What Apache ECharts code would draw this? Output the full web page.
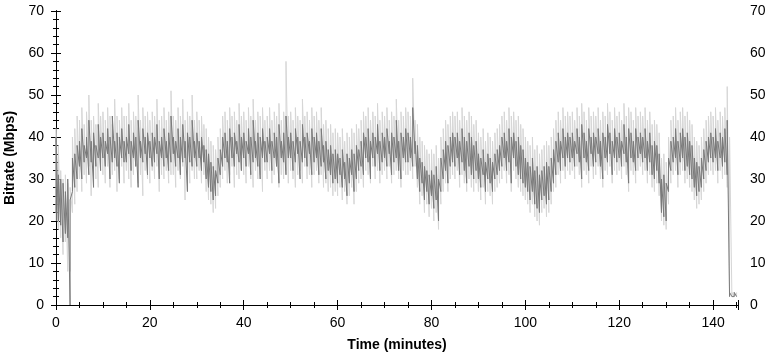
<!DOCTYPE html>
<html>
<head>
<meta charset="utf-8">
<script src="https://cdn.jsdelivr.net/npm/echarts@6/dist/echarts.min.js"></script>
<style>
html,body{margin:0;padding:0;background:#fff;}
#c{width:772px;height:361px;}
</style>
</head>
<body>
<div id="c"></div>
<script>
// Sampling step of the series (minutes)
const STEP = 0.5;
const xTicks = [0, 20, 40, 60, 80, 100, 120, 140];
const yTicks = [0, 10, 20, 30, 40, 50, 60, 70];

// Average bitrate (dark grey): low / high of each 0.5-minute slot, Mbps
const avgLow = [
22,20,19,15,17,16,0,27,28,30,
33,30,34,35,31,34,28,33,35,32,
35,33,36,30,34,35,33,29,35,34,
34,36,32,35,33,28,35,34,36,31,
35,33,34,36,30,35,33,35,32,34,
36,33,35,31,34,35,27,34,33,35,
33,35,32,34,30,28,27,25,26,29,
31,33,35,34,29,35,33,36,34,32,
35,33,36,31,34,35,33,30,35,34,
34,36,32,35,33,29,35,34,31,35,
35,32,34,36,30,34,35,33,36,31,
34,35,31,33,34,30,32,31,29,30,
29,31,28,30,26,29,31,27,30,32,
33,31,35,34,30,35,33,36,32,34,
35,33,36,31,34,35,32,30,35,34,
34,35,33,36,30,27,29,25,27,24,
26,23,25,20,27,30,32,29,33,34,
33,35,31,34,32,29,33,31,30,32,
30,28,31,27,30,29,27,30,31,32,
33,35,32,34,29,35,33,31,30,29,
28,27,25,27,24,23,22,25,26,24,
25,27,29,31,34,32,35,33,35,34,
35,33,36,34,30,35,34,32,36,33,
34,36,33,30,35,34,36,31,35,34,
35,33,36,34,29,35,34,32,35,36,
34,35,32,34,31,30,32,29,22,21,
20,27,32,34,35,31,34,35,32,33,
31,30,28,26,27,28,30,32,34,35,
34,35,32,35,33,34,31,2,2,2,2
];
const avgHigh = [
40,31,30,29,27,30,25,35,36,38,
39,42,38,40,44,39,41,38,43,40,
41,39,42,40,45,39,41,40,42,39,
40,43,39,41,40,44,39,42,40,41,
39,41,40,43,39,40,42,39,41,45,
40,39,42,40,43,39,41,40,44,39,
41,39,40,38,37,36,34,33,32,35,
37,40,41,39,42,40,41,39,43,40,
41,39,42,40,44,39,41,40,42,39,
40,42,39,41,40,43,39,41,45,40,
41,39,42,40,39,43,40,41,39,42,
40,41,39,42,38,39,37,38,36,37,
36,35,37,34,36,35,37,36,38,37,
39,41,40,42,39,41,40,43,39,41,
40,42,39,41,40,44,39,41,40,42,
41,40,47,39,38,35,34,33,32,31,
32,31,33,30,35,37,39,38,40,41,
40,41,39,42,40,39,41,40,38,39,
36,35,37,34,36,35,34,36,37,38,
40,41,39,42,40,41,39,40,38,37,
35,34,33,35,32,33,31,32,33,34,
33,35,37,39,41,39,42,40,41,40,
41,39,42,40,43,41,39,42,40,41,
40,42,39,41,40,43,41,39,42,40,
41,39,43,40,42,41,39,42,40,41,
40,42,39,41,38,39,38,36,30,31,
29,35,39,40,42,39,41,42,40,41,
39,38,35,34,33,35,37,39,40,41,
40,42,39,41,40,42,44,3,2,3,2
];

// Peak bitrate (light grey): low / high of each 0.5-minute slot, Mbps
const peakLow = [
20,18,16,12,15,8,8,22,24,27,
30,27,31,29,33,26,31,30,28,32,
31,29,33,28,31,32,27,30,33,29,
32,30,28,31,33,29,31,26,32,30,
29,32,30,33,27,31,30,32,29,31,
31,28,32,30,33,25,31,29,32,30,
30,32,29,31,27,25,24,22,23,26,
28,30,32,29,31,33,28,31,30,32,
31,29,33,30,28,32,30,31,27,32,
30,32,29,31,33,28,31,30,32,29,
32,30,28,31,32,29,33,30,31,28,
31,32,29,31,28,29,27,28,26,27,
26,28,25,27,24,26,28,24,27,29,
30,28,32,31,29,33,30,32,29,31,
32,30,33,29,31,32,30,28,32,31,
31,32,30,33,28,24,26,22,24,21,
23,20,22,18,24,27,29,27,30,31,
30,32,28,31,29,27,30,28,27,29,
27,25,28,24,27,26,24,27,28,29,
30,32,29,31,27,32,30,28,27,26,
25,24,22,24,21,20,19,22,23,21,
22,24,27,28,31,29,32,30,32,31,
32,30,33,31,28,32,31,29,33,30,
31,33,30,28,32,31,33,29,32,31,
32,30,33,31,27,32,31,29,32,33,
31,32,29,31,28,27,29,26,20,19,
18,24,29,31,32,28,31,32,29,30,
28,27,25,23,24,25,27,29,31,32,
31,32,29,32,30,31,28,3,2,2,2
];
const peakHigh = [
42,38,32,30,31,29,28,40,42,45,
44,47,43,46,50,44,45,43,48,45,
46,44,47,45,43,49,45,44,47,45,
45,48,44,46,45,50,44,47,45,46,
44,46,45,49,44,45,47,44,46,51,
45,44,47,45,49,44,46,45,50,44,
46,44,45,43,42,40,39,38,37,40,
42,45,46,44,47,45,46,44,48,45,
46,44,47,45,49,44,46,45,47,44,
45,47,44,46,45,48,44,46,58,45,
46,44,47,45,44,49,45,46,44,47,
45,46,44,47,43,44,42,43,41,42,
41,40,42,39,41,40,42,41,43,42,
44,46,45,47,44,46,45,48,44,46,
45,47,44,46,45,49,44,46,45,47,
46,45,54,44,43,40,39,38,37,36,
37,36,38,35,40,42,44,43,45,46,
45,46,44,47,45,44,46,45,43,44,
41,40,42,39,41,40,39,41,42,43,
45,46,44,47,45,46,44,45,43,42,
40,39,38,40,37,38,36,37,38,39,
38,40,42,44,46,44,47,45,46,45,
46,44,47,45,48,46,44,47,45,46,
45,47,44,46,45,48,46,44,47,45,
46,44,48,45,47,46,44,47,45,46,
45,47,44,46,43,44,43,41,35,36,
34,40,44,45,47,44,46,47,45,46,
44,43,40,39,38,40,42,44,45,46,
45,47,44,46,45,47,52,40,3,3,3
];

const X_MAX = 145.3;
const FONT = 'Liberation Sans, Arial, sans-serif';

// Each slot is drawn as a vertical stroke from its low to its high value
function strokes(low, high) {
  const pts = [];
  for (let i = 0; i < low.length; i++) {
    pts.push([i * STEP, low[i]]);
    pts.push([i * STEP, high[i]]);
  }
  return pts;
}

const chart = echarts.init(document.getElementById('c'), null, {renderer: 'canvas'});

const lbl = {color: '#000', fontSize: 14, fontFamily: FONT};
const axLine = {show: true, lineStyle: {color: '#000', width: 1}};

function xAx(pos, showLabel, inside, withMinor, name) {
  return {
    type: 'value', position: pos, min: 0, max: X_MAX, interval: 20,
    axisLine: axLine,
    axisTick: {show: true, inside: inside, length: 5, lineStyle: {color: '#000'}},
    minorTick: {show: withMinor, splitNumber: 4, length: 3, lineStyle: {color: '#000'}},
    splitLine: {show: false},
    axisLabel: showLabel ? Object.assign({margin: 11, showMaxLabel: false,
      formatter: v => xTicks.indexOf(v) >= 0 ? String(v) : ''}, lbl) : {show: false},
    name: name || '', nameLocation: 'middle', nameGap: 33,
    nameTextStyle: {color: '#000', fontSize: 14, fontWeight: 'bold', fontFamily: FONT}
  };
}
function yAx(pos, showLabel, inside, withMinor, name) {
  return {
    type: 'value', position: pos, min: 0, max: 70, interval: 10,
    axisLine: axLine,
    axisTick: {show: true, inside: inside, length: 5, lineStyle: {color: '#000'}},
    minorTick: {show: withMinor, splitNumber: 5, length: 3, lineStyle: {color: '#000'}},
    splitLine: {show: false},
    axisLabel: showLabel ? Object.assign({margin: 12,
      formatter: v => yTicks.indexOf(v) >= 0 ? String(v) : ''}, lbl) : {show: false},
    name: name || '', nameLocation: 'middle', nameGap: 38,
    nameTextStyle: {color: '#000', fontSize: 14, fontWeight: 'bold', fontFamily: FONT}
  };
}

chart.setOption({
  animation: false,
  backgroundColor: '#fff',
  grid: {left: 56, right: 34, top: 11, bottom: 56, containLabel: false, outerBoundsMode: 'none'},
  xAxis: [
    xAx('bottom', true, false, true, 'Time (minutes)'),
    xAx('top', false, false, true),
    xAx('bottom', false, true, false),
    xAx('top', false, true, false)
  ],
  yAxis: [
    yAx('left', true, false, true, 'Bitrate (Mbps)'),
    yAx('right', true, false, true),
    yAx('left', false, true, false),
    yAx('right', false, true, false)
  ],
  series: [
    {
      type: 'line', xAxisIndex: 0, yAxisIndex: 0, showSymbol: false, silent: true,
      lineStyle: {color: '#d6d6d6', width: 1},
      data: strokes(peakLow, peakHigh)
    },
    {
      type: 'line', xAxisIndex: 0, yAxisIndex: 0, showSymbol: false, silent: true,
      lineStyle: {color: '#7a7a7a', width: 1},
      data: strokes(avgLow, avgHigh)
    }
  ]
});
</script>
</body>
</html>
